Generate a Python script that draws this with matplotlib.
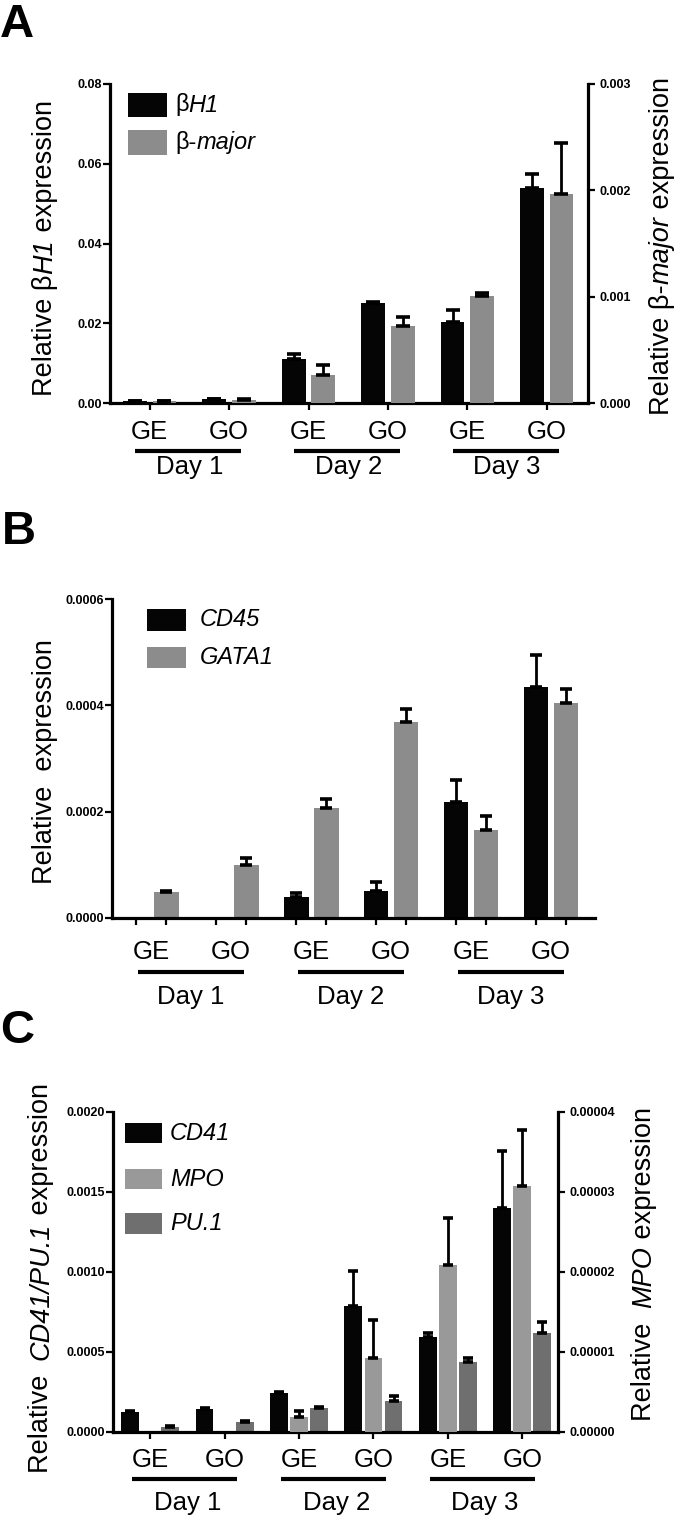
import numpy as np
import matplotlib
matplotlib.use("Agg")
import matplotlib.pyplot as plt
import matplotlib.transforms as mtransforms
from matplotlib.patches import Rectangle
from matplotlib.ticker import FormatStrFormatter

plt.rcParams['font.family'] = ['Liberation Sans', 'DejaVu Sans']

# ---------------- data ----------------
conditions = ["GE", "GO", "GE", "GO", "GE", "GO"]
days = ["Day 1", "Day 2", "Day 3"]

# Panel A
bH1 = [0.0005, 0.0010, 0.0110, 0.0250, 0.0202, 0.0539]
bH1_err = [0.0001, 0.0001, 0.0013, 0.0004, 0.0030, 0.0036]
bmaj = [0.000015, 0.000030, 0.000263, 0.000720, 0.001002, 0.001963]
bmaj_err = [0.000003, 0.000003, 0.000090, 0.000085, 0.000030, 0.000480]

# Panel B
cd45 = [0.0, 0.0, 0.0000395, 0.0000514, 0.0002186, 0.000434]
cd45_err = [0.0, 0.0, 0.0000075, 0.0000156, 0.0000414, 0.000060]
gata1 = [0.0000482, 0.0000996, 0.0002073, 0.000368, 0.000166, 0.0004046]
gata1_err = [0.000002, 0.000014, 0.0000157, 0.000025, 0.000025, 0.000027]

# Panel C
cd41 = [0.000125, 0.000144, 0.000244, 0.000785, 0.000592, 0.001398]
cd41_err = [0.000008, 0.000006, 0.000006, 0.000219, 0.000027, 0.000356]
mpo = [0.0, 0.0, 0.00000183, 0.00000925, 0.0000209, 0.0000308]
mpo_err = [0.0, 0.0, 0.00000084, 0.0000047, 0.0000059, 0.0000070]
pu1 = [0.0000313, 0.0000625, 0.000150, 0.000196, 0.000435, 0.000619]
pu1_err = [0.000008, 0.000005, 0.000006, 0.000027, 0.000025, 0.000066]

# labels: list of (text, italic) segments
legend_A = [[("β", False), ("H1", True)], [("β-", False), ("major", True)]]
legend_B = [[("CD45", True)], [("GATA1", True)]]
legend_C = [[("CD41", True)], [("MPO", True)], [("PU.1", True)]]
ylabel_A_left = [("Relative β", False), ("H1", True), (" expression", False)]
ylabel_A_right = [("Relative β-", False), ("major", True), (" expression", False)]
ylabel_B = [("Relative  expression", False)]
ylabel_C_left = [("Relative  ", False), ("CD41/PU.1", True), (" expression", False)]
ylabel_C_right = [("Relative  ", False), ("MPO", True), (" expression", False)]

BLACK = "#050505"
GRAY = "#8c8c8c"
LGRAY = "#999999"
DGRAY = "#6f6f6f"

W, H = 675, 1521
fig = plt.figure(figsize=(W / 100, H / 100), dpi=100)
renderer = fig.canvas.get_renderer()

SPINE_LW = 2.3
TICK_FS = 9
CAT_FS = 18.5
YL_FS = 19.5
LEG_FS = 17


def fx(px):
    return px / W


def fy(py):
    return 1 - py / H


def make_axes(l, t, r, b):
    return fig.add_axes([fx(l), fy(b), fx(r) - fx(l), (b - t) / H])


def style_axis(ax, right=False):
    ax.spines['top'].set_visible(False)
    for s in ['left', 'bottom', 'right']:
        ax.spines[s].set_linewidth(SPINE_LW)
    if not right:
        ax.spines['right'].set_visible(False)
    ax.tick_params(axis='both', direction='out', length=5, width=1.6,
                   labelsize=TICK_FS, pad=1)
    for lbl in ax.get_yticklabels():
        lbl.set_fontweight('bold')


def draw_bars(ax, x, vals, errs, width, color, cap):
    vals = np.asarray(vals)
    errs = np.asarray(errs)
    ax.bar(x, vals, width=width, color=color, zorder=2, linewidth=0)
    m = vals > 0
    ax.errorbar(x[m], vals[m], yerr=[np.zeros(m.sum()), errs[m]], fmt='none',
                ecolor='black', elinewidth=2.0, capsize=cap, capthick=2.6,
                zorder=3, clip_on=False)


def category_labels(ax, centers, d_lab, d_line, d_day, x_lo, x_hi):
    base = ax.get_xaxis_transform()
    t_lab = mtransforms.offset_copy(base, fig=fig, y=-d_lab, units='dots')
    t_line = mtransforms.offset_copy(base, fig=fig, y=-d_line, units='dots')
    t_day = mtransforms.offset_copy(base, fig=fig, y=-d_day, units='dots')
    for c, lab in zip(centers, conditions):
        ax.text(c, 0, lab, transform=t_lab, ha='center', va='center',
                fontsize=CAT_FS)
    for i, d in enumerate(days):
        c1, c2 = centers[2 * i], centers[2 * i + 1]
        ax.plot([c1 - x_lo, c2 + x_hi], [0, 0], transform=t_line, color='black',
                lw=3.0, solid_capstyle='butt', clip_on=False)
        ax.text((c1 + c2) / 2, 0, d, transform=t_day, ha='center', va='center',
                fontsize=CAT_FS)


def _seg_len(txt, italic, fs, rot):
    t = fig.text(0, 0, txt, fontsize=fs, fontstyle='italic' if italic else 'normal',
                 rotation=rot)
    bb = t.get_window_extent(renderer)
    t.remove()
    return bb.height if rot == 90 else bb.width


def mixed_text(x_base, y_px, segments, fs, vertical, center=True):
    """Draw text made of plain/italic segments along one baseline.
    vertical: reads bottom-to-top, x_base is baseline x, y_px is centre.
    horizontal: x_base is start x, y_px is centre-ish baseline y."""
    rot = 90 if vertical else 0
    lens = [_seg_len(t, it, fs, rot) for t, it in segments]
    total = sum(lens)
    if vertical:
        pos = (H - y_px) - total / 2 if center else (H - y_px)
        for (t, it), L in zip(segments, lens):
            fig.text(fx(x_base), pos / H, t, fontsize=fs, rotation=90,
                     rotation_mode='anchor', ha='left', va='baseline',
                     fontstyle='italic' if it else 'normal')
            pos += L
    else:
        pos = x_base
        for (t, it), L in zip(segments, lens):
            fig.text(fx(pos), fy(y_px), t, fontsize=fs, ha='left', va='baseline',
                     fontstyle='italic' if it else 'normal')
            pos += L


def legend(x0, x1, rows, tx, labels, colors):
    for (y0, y1), segs, col in zip(rows, labels, colors):
        fig.add_artist(Rectangle((fx(x0), fy(y1)), fx(x1) - fx(x0), (y1 - y0) / H,
                                 transform=fig.transFigure, facecolor=col,
                                 edgecolor='none'))
        mixed_text(tx, (y0 + y1) / 2 + 6.5, segs, LEG_FS, vertical=False)


centers = np.arange(6)

# ---------------- Panel A ----------------
axA = make_axes(110, 84, 588, 403)
axA2 = axA.twinx()
axA.set_xlim(-0.5, 5.52)
axA.set_ylim(0, 0.08)
axA2.set_ylim(0, 0.003)
wA, oA = 0.30, 0.186
draw_bars(axA, centers - oA, bH1, bH1_err, wA, BLACK, 4.7)
draw_bars(axA2, centers + oA, bmaj, bmaj_err, wA, GRAY, 4.7)
axA.set_yticks(np.arange(0, 0.081, 0.02))
axA2.set_yticks(np.arange(0, 0.0031, 0.001))
axA.yaxis.set_major_formatter(FormatStrFormatter('%.2f'))
axA2.yaxis.set_major_formatter(FormatStrFormatter('%.3f'))
axA.set_xticks(centers)
axA.set_xticklabels([])
style_axis(axA)
style_axis(axA2, right=True)
for s in ['left', 'bottom']:
    axA2.spines[s].set_visible(False)
axA2.tick_params(axis='y', pad=3)
for lbl in axA2.get_yticklabels():
    lbl.set_fontweight('bold')
category_labels(axA, centers, 29, 48, 64, 0.18, 0.15)
mixed_text(52, 248, ylabel_A_left, YL_FS, vertical=True)
mixed_text(669, 246, ylabel_A_right, YL_FS, vertical=True)
legend(128, 167, [(93, 117), (130, 155)], 175, legend_A, [BLACK, GRAY])
fig.text(fx(0), fy(25), "A", fontsize=34, fontweight='bold', ha='left', va='center')

# ---------------- Panel B ----------------
axB = make_axes(112, 599, 595, 918)
axB.set_xlim(-0.49, 5.55)
axB.set_ylim(0, 0.0006)
wB, oB = 0.31, 0.1875
draw_bars(axB, centers - oB, cd45, cd45_err, wB, BLACK, 4.6)
draw_bars(axB, centers + oB, gata1, gata1_err, wB, GRAY, 4.6)
axB.set_yticks(np.arange(0, 0.00061, 0.0002))
axB.yaxis.set_major_formatter(FormatStrFormatter('%.4f'))
axB.set_xticks(np.sort(np.concatenate([centers - oB, centers + oB])))
axB.set_xticklabels([])
style_axis(axB)
category_labels(axB, centers, 34, 54, 79, 0.16, 0.16)
mixed_text(52, 762, ylabel_B, YL_FS, vertical=True)
legend(147, 186, [(609, 631), (647, 668)], 200, legend_B, [BLACK, GRAY])
fig.text(fx(2), fy(532), "B", fontsize=34, fontweight='bold', ha='left', va='center')

# ---------------- Panel C ----------------
axC = make_axes(113, 1112, 558, 1432)
axC2 = axC.twinx()
axC.set_xlim(-0.5, 5.48)
axC.set_ylim(0, 0.002)
axC2.set_ylim(0, 0.00004)
wC, oC = 0.24, 0.27
draw_bars(axC, centers - oC, cd41, cd41_err, wC, BLACK, 3.6)
draw_bars(axC2, centers, mpo, mpo_err, wC, LGRAY, 3.6)
draw_bars(axC, centers + oC, pu1, pu1_err, wC, DGRAY, 3.6)
axC.set_yticks(np.arange(0, 0.00201, 0.0005))
axC2.set_yticks(np.arange(0, 0.0000401, 0.00001))
axC.yaxis.set_major_formatter(FormatStrFormatter('%.4f'))
axC2.yaxis.set_major_formatter(FormatStrFormatter('%.5f'))
axC.set_xticks(centers)
axC.set_xticklabels([])
style_axis(axC)
style_axis(axC2, right=True)
for s in ['left', 'bottom']:
    axC2.spines[s].set_visible(False)
axC2.tick_params(axis='y', pad=3)
for lbl in axC2.get_yticklabels():
    lbl.set_fontweight('bold')
category_labels(axC, centers, 28, 47, 71, 0.24, 0.17)
mixed_text(48, 1278, ylabel_C_left, YL_FS, vertical=True)
mixed_text(651, 1264, ylabel_C_right, YL_FS, vertical=True)
legend(125, 162, [(1123, 1143), (1169, 1189), (1213, 1234)], 170, legend_C,
       [BLACK, LGRAY, DGRAY])
fig.text(fx(0), fy(1031), "C", fontsize=34, fontweight='bold', ha='left', va='center')

fig.savefig("out.png", dpi=100)
